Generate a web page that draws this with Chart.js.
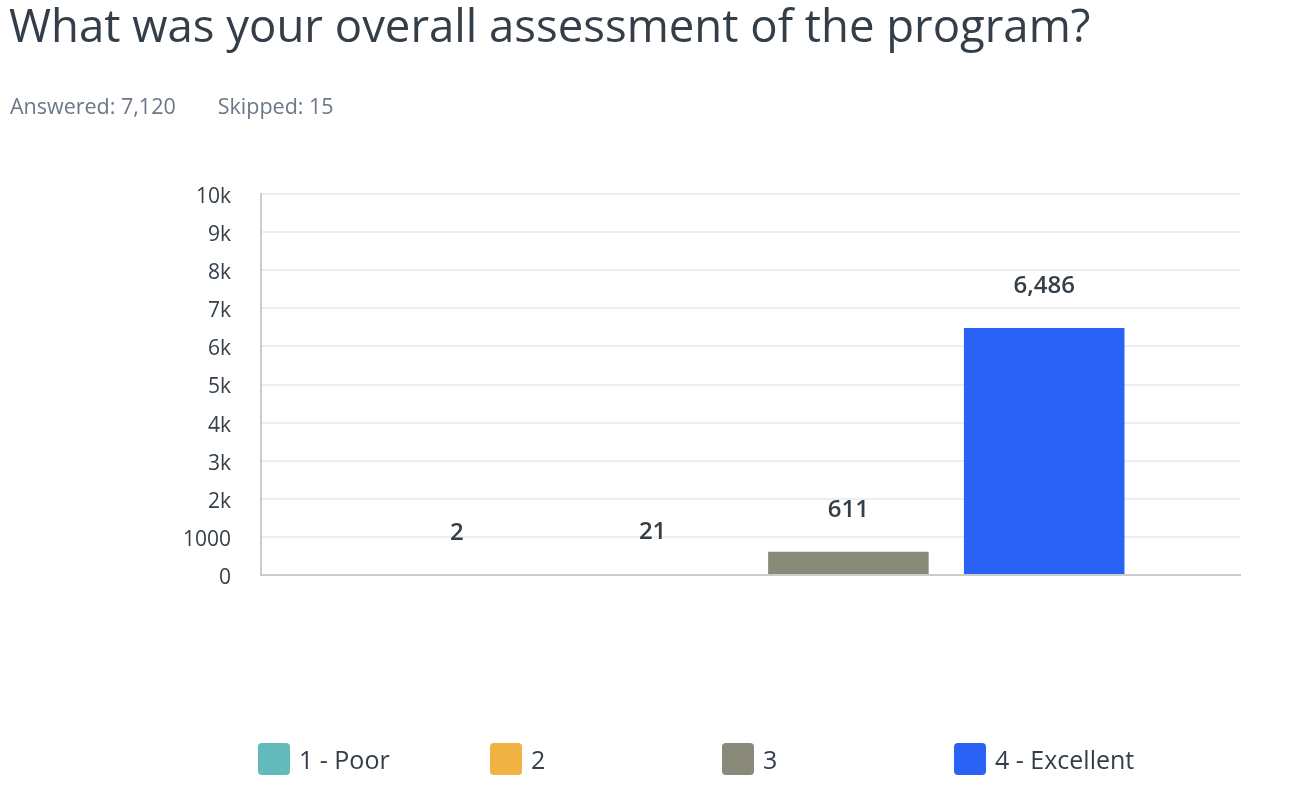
<!DOCTYPE html>
<html>
<head>
<meta charset="utf-8">
<script src="https://cdn.jsdelivr.net/npm/chart.js@4"></script>
<style>
  body { margin: 0; background: #fff; font-family: "Open Sans", sans-serif; }
  #wrap { position: relative; width: 1292px; height: 786px; overflow: hidden; }
  #title { position: absolute; left: 9px; top: -7px; font-size: 45.5px; color: #333e48; white-space: nowrap; }
  #stats { position: absolute; left: 10px; top: 91px; font-size: 21.5px; color: #6b7787; }
  #stats span { margin-right: 42px; }
  #chart-box { position: absolute; left: 0; top: 0; width: 1292px; height: 786px; }
  #legend { position: absolute; left: 258px; top: 742px; display: flex; }
  .item { width: 232px; display: flex; align-items: center; font-size: 25px; color: #333e48; }
  .swatch { width: 32px; height: 32px; border-radius: 4px; margin-right: 9px; }
</style>
</head>
<body>
<div id="wrap">
  <div id="chart-box"><canvas id="chart"></canvas></div>
  <div id="title">What was your overall assessment of the program?</div>
  <div id="stats"><span>Answered: 7,120</span><span>Skipped: 15</span></div>
  <div id="legend"></div>
</div>
<script>
// Answer options and how many picked each
const answers = ["1 - Poor", "2", "3", "4 - Excellent"];
const counts = [2, 21, 611, 6486];
const colors = ["#62babd", "#efb243", "#8a8a7a", "#2962f5"];
const yTickLabels = ["0", "1000", "2k", "3k", "4k", "5k", "6k", "7k", "8k", "9k", "10k"];

// one bar per answer, all in the same category
const datasets = answers.map((name, i) => ({
  label: name,
  data: [counts[i]],
  backgroundColor: colors[i],
  barPercentage: 0.82,
  categoryPercentage: 0.8,
  inflateAmount: 0
}));

// value above each bar
const valueLabels = {
  id: "valueLabels",
  afterDatasetsDraw(chart) {
    const ctx = chart.ctx;
    ctx.save();
    ctx.font = "600 24px 'Open Sans'";
    ctx.fillStyle = "#333e48";
    ctx.textAlign = "center";
    ctx.textBaseline = "middle";
    chart.data.datasets.forEach((ds, i) => {
      const bar = chart.getDatasetMeta(i).data[0];
      ctx.fillText(ds.data[0].toLocaleString("en-US"), bar.x, bar.y - 42);
    });
    ctx.restore();
  }
};

new Chart(document.getElementById("chart"), {
  type: "bar",
  data: { labels: [""], datasets },
  plugins: [valueLabels],
  options: {
    responsive: true,
    maintainAspectRatio: false,
    animation: false,
    layout: { padding: { top: 194, right: 52, bottom: 211, left: 0 } },
    plugins: { legend: { display: false }, tooltip: { enabled: false } },
    scales: {
      x: {
        ticks: { display: false },
        grid: { display: false, drawTicks: false },
        // axis line drawn over the tiny bars
        border: { color: "#cccccc", width: 2, z: 1 },
        afterFit(scale) { scale.height = 0; }
      },
      y: {
        min: 0,
        max: 10000,
        ticks: {
          stepSize: 1000,
          padding: 30,
          labelOffset: 3,
          color: "#333e48",
          font: { family: "Open Sans", size: 21 },
          callback: (v, i) => yTickLabels[i]
        },
        grid: { color: "#eeeeee", lineWidth: 2, drawTicks: false },
        border: { color: "#cccccc", width: 2 },
        afterFit(scale) { scale.width = 261; }
      }
    }
  }
});

// legend in the page, fixed width per entry
const legend = document.getElementById("legend");
answers.forEach((name, i) => {
  const item = document.createElement("div");
  item.className = "item";
  item.innerHTML = `<div class="swatch" style="background:${colors[i]}"></div>${name}`;
  legend.appendChild(item);
});
</script>
</body>
</html>
